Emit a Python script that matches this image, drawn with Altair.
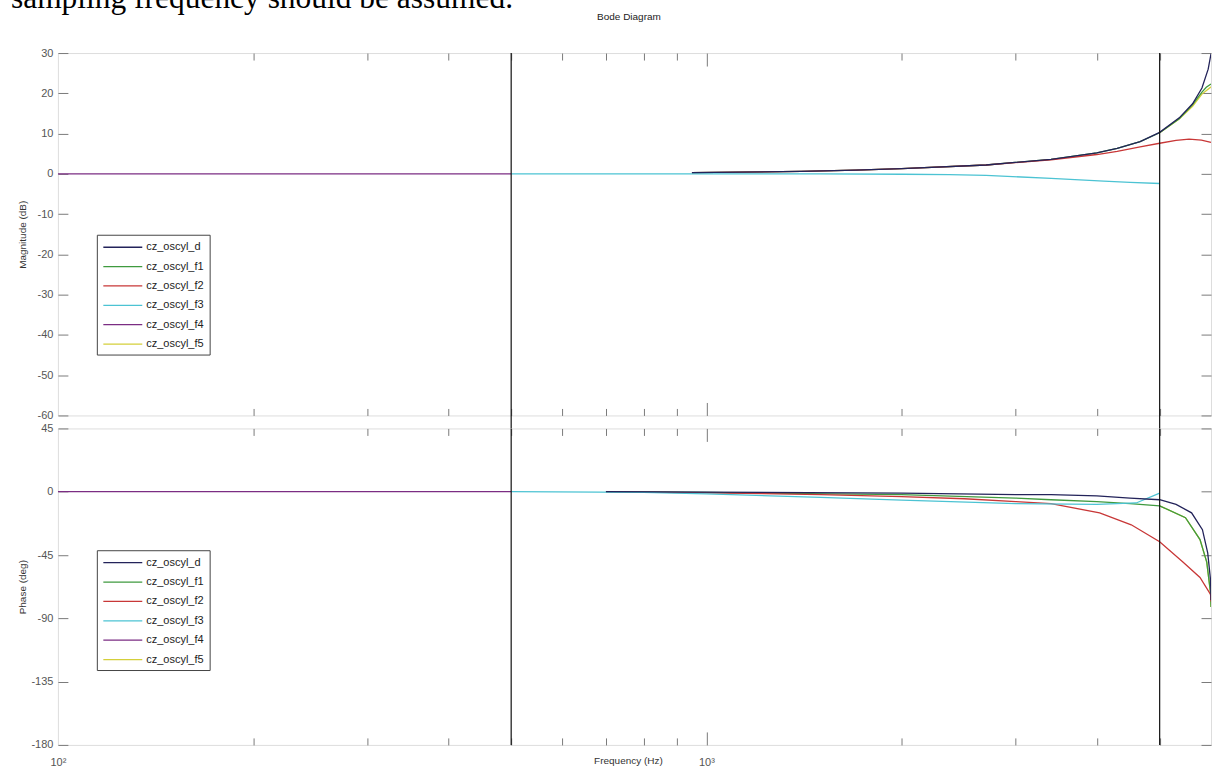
import altair as alt
import pandas as pd

# ---------------- data ----------------
SERIES = ["cz_oscyl_d", "cz_oscyl_f1", "cz_oscyl_f2", "cz_oscyl_f3", "cz_oscyl_f4", "cz_oscyl_f5"]
COLORS = ["#23235a", "#3f9a3f", "#c83737", "#4cc3d3", "#7b2d83", "#d4cf3a"]
DRAW_ORDER = ["cz_oscyl_f5", "cz_oscyl_f1", "cz_oscyl_f2", "cz_oscyl_f3", "cz_oscyl_d", "cz_oscyl_f4"]

# magnitude (dB)
mag_freq_d = [950, 1400, 1700, 2000, 2700, 3400, 4000, 4300, 4665, 5000, 5360, 5620, 5810, 5940, 6000]
mag_d = [0.3, 0.6, 0.9, 1.3, 2.2, 3.6, 5.2, 6.3, 8.0, 10.3, 13.9, 17.4, 21.3, 26.0, 29.8]
mag_freq_f1 = [950, 1400, 1700, 2000, 2700, 3400, 4000, 4300, 4665, 5000, 5360, 5620, 5810, 5900, 6000]
mag_f1 = [0.3, 0.6, 0.9, 1.3, 2.2, 3.6, 5.2, 6.3, 8.0, 10.2, 13.7, 17.2, 20.3, 21.5, 22.3]
mag_freq_f2 = [950, 1400, 1700, 2000, 2700, 3400, 4000, 4300, 4665, 5000, 5300, 5550, 5800, 6000]
mag_f2 = [0.3, 0.6, 0.9, 1.3, 2.2, 3.5, 4.8, 5.6, 6.7, 7.6, 8.3, 8.6, 8.4, 7.8]
mag_freq_f3 = [500, 1000, 1500, 2000, 2370, 2700, 3400, 4100, 4500, 5000]
mag_f3 = [0.0, 0.0, 0.0, -0.1, -0.2, -0.4, -1.1, -1.8, -2.1, -2.4]
mag_freq_f4 = [100, 500]
mag_f4 = [0.0, 0.0]
mag_freq_f5 = [5000, 5360, 5620, 5810, 6000]
mag_f5 = [10.2, 13.6, 16.8, 19.8, 21.6]

# phase (deg)
ph_freq_d = [700, 1000, 2000, 3000, 3400, 4000, 4500, 5000, 5300, 5600, 5820, 5930, 5990, 6000]
ph_d = [0.0, -0.3, -1.0, -2.0, -2.1, -3.0, -4.5, -5.7, -9.0, -15.0, -27.0, -43.5, -62.7, -77.0]
ph_freq_f1 = [700, 1000, 2000, 3000, 3400, 4000, 4500, 5000, 5480, 5770, 5910, 5990, 6000]
ph_f1 = [0.0, -0.5, -2.0, -4.5, -5.7, -7.0, -8.5, -10.0, -18.5, -34.0, -50.0, -72.0, -82.0]
ph_freq_f2 = [700, 1000, 1500, 2000, 2500, 3000, 3400, 4040, 4520, 5000, 5430, 5770, 5990, 6000]
ph_f2 = [0.0, -0.8, -2.0, -3.5, -5.0, -7.0, -8.5, -15.0, -23.5, -35.6, -50.0, -61.0, -73.0, -78.0]
ph_freq_f3 = [500, 800, 1000, 1500, 2000, 3000, 4000, 4600, 5000]
ph_f3 = [0.0, -0.5, -1.5, -4.0, -6.0, -8.5, -9.0, -8.0, -1.0]
ph_freq_f4 = [100, 500]
ph_f4 = [0.0, 0.0]
ph_freq_f5 = [5000, 5480, 5770, 5910, 5990, 6000]
ph_f5 = [-10.0, -18.5, -34.0, -50.0, -72.0, -82.0]

MARKERS = [500, 5000]
MAG_TICKS = [30, 20, 10, 0, -10, -20, -30, -40, -50, -60]
PH_TICKS = [45, 0, -45, -90, -135, -180]
X_MINOR = [200, 300, 400, 500, 600, 700, 800, 900, 2000, 3000, 4000, 5000]
X_MAJOR = [1000]
X_LABELS = [100, 1000]
DOC_TEXT = "sampling frequency should be assumed."
PLOT_TITLE = "Bode Diagram"

MAG = {
    "cz_oscyl_d": (mag_freq_d, mag_d), "cz_oscyl_f1": (mag_freq_f1, mag_f1),
    "cz_oscyl_f2": (mag_freq_f2, mag_f2), "cz_oscyl_f3": (mag_freq_f3, mag_f3),
    "cz_oscyl_f4": (mag_freq_f4, mag_f4), "cz_oscyl_f5": (mag_freq_f5, mag_f5),
}
PH = {
    "cz_oscyl_d": (ph_freq_d, ph_d), "cz_oscyl_f1": (ph_freq_f1, ph_f1),
    "cz_oscyl_f2": (ph_freq_f2, ph_f2), "cz_oscyl_f3": (ph_freq_f3, ph_f3),
    "cz_oscyl_f4": (ph_freq_f4, ph_f4), "cz_oscyl_f5": (ph_freq_f5, ph_f5),
}


def frame(d):
    rows = []
    for s, (fr, vals) in d.items():
        for f, v in zip(fr, vals):
            rows.append({"series": s, "freq": f, "value": v})
    return pd.DataFrame(rows)


# ---------------- style ----------------
W = 1155
H_TOP = 363
H_BOT = 317
GAP = 13
FONT = "Liberation Sans"
TICK = "#7a7a7a"
LBL = "#555555"


def y_main(vals, title, H):
    return alt.Axis(values=vals, orient="left", ticks=False, tickSize=0, domain=False, grid=False,
                    labelExpr="'' + datum.value",
                    labelPadding=5, labelFont=FONT, labelFontSize=11, labelColor=LBL,
                    labelOverlap=False, labelFlush=False,
                    title=title, titleFont=FONT, titleFontSize=10, titleFontWeight="normal",
                    titleColor="#333333", titleX=-30, titleY=H / 2, titleAngle=270,
                    titleAlign="center", titleBaseline="bottom")


def y_ticks(vals, orient):
    return alt.Axis(values=vals, orient=orient, offset=-W, ticks=True, tickSize=10,
                    tickColor=TICK, tickWidth=1, labels=False, domain=False, grid=False, title=None)


def x_ticks(vals, orient, H, size):
    return alt.Axis(values=vals, orient=orient, offset=-H, ticks=True, tickSize=size,
                    tickColor=TICK, tickWidth=1, labels=False, domain=False, grid=False, title=None)


def x_main():
    return alt.Axis(values=X_LABELS, orient="bottom", ticks=False, tickSize=0, domain=False, grid=False,
                    labelExpr="datum.value < 500 ? '10\u00b2' : '10\u00b3'", labelFlush=False,
                    labelPadding=12, labelBaseline="top", labelFont=FONT, labelFontSize=11,
                    labelColor=LBL, labelOverlap=False,
                    title="Frequency (Hz)", titleFont=FONT, titleFontSize=10, titleFontWeight="normal",
                    titleColor="#333333", titleX=571, titleY=11, titleBaseline="top")


def panel(d, ydom, yvals, H, ytitle, bottom, legend_y, head=False):
    df = frame(d)
    xs = alt.Scale(type="log", domain=[100, 6000], nice=False)
    ys = alt.Scale(domain=ydom, nice=False, zero=False)
    cs = alt.Scale(domain=SERIES, range=COLORS)
    legend = alt.Legend(orient="none", legendX=39, legendY=legend_y, title=None,
                        strokeColor="#444444", fillColor="white", padding=5.5,
                        symbolType="M-1,0L5.5,0", symbolSize=144, symbolStrokeWidth=1.3,
                        labelFont=FONT, labelFontSize=11, labelColor="#222222",
                        labelOffset=30, rowPadding=7.4, cornerRadius=0)
    axes = [
        (x_main() if bottom else None, y_main(yvals, ytitle, H)),
        (x_ticks(X_MINOR, "top", H, 7), y_ticks(yvals, "right")),
        (x_ticks(X_MINOR, "bottom", H, 7), y_ticks(yvals, "left")),
        (x_ticks(X_MAJOR, "top", H, 13), None),
        (x_ticks(X_MAJOR, "bottom", H, 13), None),
        (None, None),
    ]
    layers = []
    for i, s in enumerate(DRAW_ORDER):
        xa, ya = axes[i]
        layers.append(
            alt.Chart(df[df["series"] == s]).mark_line(strokeWidth=1.3, clip=True).encode(
                x=alt.X("freq:Q", scale=xs, axis=xa),
                y=alt.Y("value:Q", scale=ys, axis=ya),
                color=alt.Color("series:N", scale=cs, legend=legend if i == 0 else None),
            )
        )
    rule_enc = {"x": alt.X("freq:Q", scale=xs, axis=None)}
    if not bottom:
        # marker lines run on through the gap between the two panels
        rule_enc["y"] = alt.value(0)
        rule_enc["y2"] = alt.value(H + GAP)
    layers.append(
        alt.Chart(pd.DataFrame({"freq": MARKERS})).mark_rule(color="#111111", strokeWidth=1.2).encode(**rule_enc)
    )
    if head:
        layers.append(
            alt.Chart(pd.DataFrame({"t": [DOC_TEXT]})).mark_text(
                font="Liberation Serif", fontSize=31.5, align="left", baseline="alphabetic", color="#000000"
            ).encode(text="t:N", x=alt.value(-47), y=alt.value(-45.5))
        )
        layers.append(
            alt.Chart(pd.DataFrame({"t": [PLOT_TITLE]})).mark_text(
                font=FONT, fontSize=10, align="center", baseline="middle", color="#222222"
            ).encode(text="t:N", x=alt.value(572), y=alt.value(-36))
        )
    ch = alt.layer(*layers).resolve_axis(x="independent", y="independent").properties(width=W, height=H)
    return ch


top = panel(MAG, [-60, 30], MAG_TICKS, H_TOP, "Magnitude (dB)", False, 182, head=True)
bottom = panel(PH, [-180, 45], PH_TICKS, H_BOT, "Phase (deg)", True, 122)

chart = alt.vconcat(top, bottom, spacing=GAP, bounds="flush").resolve_scale(
    color="independent", x="independent", y="independent"
).resolve_legend(color="independent").properties(
    padding={"left": 10, "top": -18.5, "right": 4, "bottom": 0}
).configure_view(stroke="#7a7a7a", strokeWidth=1).configure(background="white")

chart.save("out.html", embed_options={"renderer": "svg", "actions": False})
